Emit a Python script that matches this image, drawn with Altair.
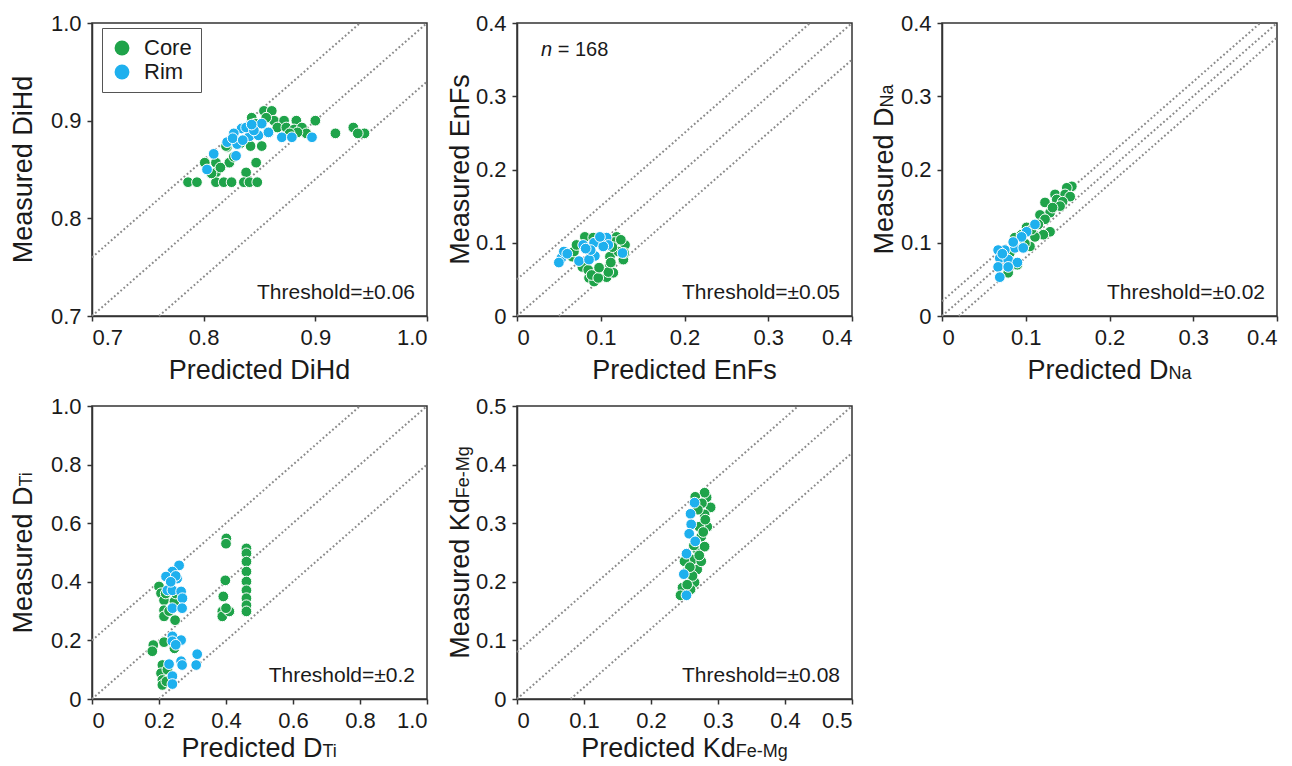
import altair as alt
import pandas as pd

FONT = "Liberation Sans"
GREEN = "#1fa34a"
BLUE = "#1eb0ee"
LINE_GRAY = "#8a8a8a"
INK = "#1a1a1a"
GROUPS = ["Core", "Rim"]

# ---------------- data ----------------
# Panel 1: DiHd
DIHD_CORE_X = [0.854, 0.861, 0.863, 0.872, 0.883, 0.900, 0.918, 0.934, 0.944, 0.938, 0.843, 0.866,
               0.874, 0.881, 0.888, 0.892, 0.884, 0.842, 0.852, 0.847, 0.823, 0.811, 0.801, 0.811,
               0.838, 0.827, 0.786, 0.794, 0.811, 0.818, 0.825, 0.836, 0.841, 0.848, 0.807, 0.821,
               0.856, 0.846, 0.858, 0.877, 0.833, 0.815, 0.820]
DIHD_CORE_Y = [0.910, 0.910, 0.900, 0.900, 0.900, 0.900, 0.887, 0.893, 0.887, 0.887, 0.903, 0.893,
               0.893, 0.891, 0.893, 0.887, 0.888, 0.874, 0.874, 0.857, 0.857, 0.857, 0.857, 0.847,
               0.847, 0.863, 0.837, 0.837, 0.837, 0.837, 0.837, 0.837, 0.837, 0.837, 0.846, 0.873,
               0.903, 0.897, 0.888, 0.887, 0.877, 0.852, 0.874]
DIHD_RIM_X = [0.834, 0.852, 0.827, 0.821, 0.830, 0.841, 0.849, 0.858, 0.870, 0.879, 0.897, 0.809,
              0.829, 0.803, 0.838, 0.845, 0.826, 0.835, 0.843]
DIHD_RIM_Y = [0.892, 0.897, 0.887, 0.878, 0.876, 0.884, 0.885, 0.888, 0.883, 0.883, 0.883, 0.866,
              0.864, 0.850, 0.893, 0.890, 0.882, 0.880, 0.896]

# Panel 2: EnFs
ENFS_CORE_X = [0.081, 0.119, 0.129, 0.066, 0.068, 0.111, 0.111, 0.086, 0.092, 0.107, 0.115, 0.078,
               0.127, 0.085, 0.089, 0.097, 0.109, 0.071, 0.091, 0.116, 0.121, 0.128, 0.112, 0.114,
               0.098, 0.124, 0.101]
ENFS_CORE_Y = [0.108, 0.108, 0.097, 0.081, 0.088, 0.081, 0.070, 0.052, 0.047, 0.053, 0.059, 0.067,
               0.077, 0.063, 0.056, 0.052, 0.060, 0.097, 0.107, 0.101, 0.088, 0.086, 0.073, 0.094,
               0.066, 0.104, 0.102]
ENFS_RIM_X = [0.053, 0.056, 0.050, 0.079, 0.092, 0.107, 0.109, 0.093, 0.074, 0.086, 0.126, 0.103,
              0.099, 0.088, 0.082, 0.060]
ENFS_RIM_Y = [0.079, 0.088, 0.073, 0.097, 0.100, 0.107, 0.097, 0.082, 0.075, 0.077, 0.086, 0.095,
              0.108, 0.090, 0.092, 0.085]

# Panel 3: D_Na
DNA_CORE_X = [0.155, 0.149, 0.135, 0.147, 0.153, 0.137, 0.123, 0.144, 0.129, 0.117, 0.123, 0.115,
              0.129, 0.121, 0.101, 0.111, 0.087, 0.095, 0.105, 0.081, 0.090, 0.079, 0.141, 0.132,
              0.107, 0.099]
DNA_CORE_Y = [0.177, 0.175, 0.166, 0.166, 0.163, 0.159, 0.155, 0.156, 0.141, 0.138, 0.132, 0.125,
              0.115, 0.111, 0.121, 0.108, 0.107, 0.111, 0.095, 0.086, 0.070, 0.059, 0.150, 0.148,
              0.118, 0.099]
DNA_RIM_X = [0.111, 0.101, 0.095, 0.087, 0.075, 0.067, 0.069, 0.079, 0.090, 0.067, 0.069, 0.079,
             0.097, 0.085, 0.072]
DNA_RIM_Y = [0.125, 0.115, 0.108, 0.093, 0.090, 0.090, 0.079, 0.077, 0.073, 0.067, 0.053, 0.067,
             0.093, 0.101, 0.085]

# Panel 4: D_Ti
DTI_CORE_X = [0.401, 0.400, 0.461, 0.461, 0.461, 0.461, 0.461, 0.461, 0.461, 0.461, 0.461, 0.398,
              0.392, 0.389, 0.389, 0.410, 0.400, 0.200, 0.206, 0.215, 0.215, 0.215, 0.248, 0.246,
              0.183, 0.180, 0.215, 0.210, 0.206, 0.210, 0.210, 0.222, 0.246, 0.230, 0.220, 0.225,
              0.250]
DTI_CORE_Y = [0.548, 0.530, 0.514, 0.497, 0.469, 0.435, 0.401, 0.371, 0.344, 0.320, 0.299, 0.405,
              0.350, 0.299, 0.282, 0.299, 0.310, 0.384, 0.361, 0.337, 0.303, 0.282, 0.269, 0.333,
              0.184, 0.163, 0.194, 0.116, 0.088, 0.065, 0.048, 0.060, 0.173, 0.300, 0.360, 0.100,
              0.360]
DTI_RIM_X = [0.260, 0.240, 0.221, 0.254, 0.225, 0.240, 0.266, 0.270, 0.240, 0.269, 0.240, 0.266,
             0.240, 0.250, 0.230, 0.266, 0.269, 0.311, 0.314, 0.240, 0.240, 0.250, 0.235]
DTI_RIM_Y = [0.456, 0.435, 0.418, 0.411, 0.371, 0.371, 0.367, 0.344, 0.310, 0.310, 0.214, 0.201,
             0.197, 0.185, 0.119, 0.129, 0.116, 0.116, 0.153, 0.078, 0.051, 0.420, 0.400]

# Panel 5: Kd_Fe-Mg
KD_CORE_X = [0.283, 0.280, 0.266, 0.289, 0.280, 0.284, 0.275, 0.269, 0.280, 0.262, 0.250, 0.269,
             0.254, 0.265, 0.247, 0.259, 0.244, 0.275, 0.272, 0.281, 0.276, 0.270, 0.278, 0.272,
             0.262, 0.258, 0.264, 0.254]
KD_CORE_Y = [0.344, 0.352, 0.345, 0.327, 0.315, 0.294, 0.277, 0.255, 0.260, 0.238, 0.235, 0.221,
             0.218, 0.199, 0.190, 0.187, 0.177, 0.235, 0.294, 0.306, 0.334, 0.323, 0.285, 0.245,
             0.210, 0.225, 0.262, 0.195]
KD_RIM_X = [0.265, 0.259, 0.260, 0.257, 0.266, 0.253, 0.249, 0.253]
KD_RIM_Y = [0.335, 0.316, 0.298, 0.282, 0.269, 0.248, 0.213, 0.177]

# ---------------- layout / style ----------------
W, H = 335, 293
TITLE_SIZE = 27
SUB_SIZE = 18
TICK_SIZE = 22
THR_SIZE = 21
NOTE_SIZE = 20

ARIAL = {' ': .278, '-': .333, '=': .584, '.': .278, 'D': .722, 'E': .667, 'F': .611, 'H': .722,
         'K': .667, 'M': .833, 'N': .722, 'P': .667, 'T': .611, 'a': .556, 'c': .5, 'd': .556,
         'e': .556, 'g': .556, 'i': .222, 'n': .556, 'r': .333, 's': .5, 't': .278, 'u': .556}


def tw(s, size):
    return sum(ARIAL.get(c, 0.556) for c in s) * size


ONE = alt.Data(values=[{"a": 1}])


def txt(s, x, y, size, align="left", angle=0, style="normal"):
    return alt.Chart(ONE).mark_text(
        text=s, font=FONT, fontSize=size, align=align, baseline="alphabetic",
        angle=angle, fontStyle=style, color=INK
    ).encode(x=alt.value(x), y=alt.value(y))


LABEL_EXPR = "datum.value == 0 ? '0' : format(datum.value, '.1f')"


def panel(cx, cy, rx, ry, lo, hi, ticks, thr, thr_label, xt, xs_, yt, ys_, ytx, xty,
          legend=False, note=False):
    pts = pd.DataFrame({
        "pred": cx + rx,
        "meas": cy + ry,
        "grp": ["Core"] * len(cx) + ["Rim"] * len(rx),
    })
    rows = []
    for k, t in enumerate([-thr, 0.0, thr]):
        x0, x1 = max(lo, lo - t), min(hi, hi - t)
        rows += [{"k": k, "pred": x0, "meas": x0 + t}, {"k": k, "pred": x1, "meas": x1 + t}]
    lines_df = pd.DataFrame(rows)

    sc = alt.Scale(domain=[lo, hi], nice=False, zero=False)
    xax = alt.Axis(values=ticks, labelExpr=LABEL_EXPR, title=None, grid=False)
    yax = alt.Axis(values=ticks, labelExpr=LABEL_EXPR, title=None, grid=False)

    lines = alt.Chart(lines_df).mark_line(
        color=LINE_GRAY, strokeWidth=2, strokeDash=[1.8, 2.4]
    ).encode(
        x=alt.X("pred:Q", scale=sc, axis=xax),
        y=alt.Y("meas:Q", scale=sc, axis=yax),
        detail="k:N",
    )

    if legend:
        leg = alt.Legend(orient="none", legendX=10, legendY=5, title=None,
                         strokeColor="#555555", fillColor="white", padding=9,
                         labelFont=FONT, labelFontSize=22, labelColor=INK,
                         symbolType="circle", symbolSize=220, symbolStrokeWidth=0,
                         symbolOpacity=1, rowPadding=2, labelOffset=11)
    else:
        leg = None
    color = alt.Color("grp:N", scale=alt.Scale(domain=GROUPS, range=[GREEN, BLUE]), legend=leg)

    points = alt.Chart(pts).mark_circle(
        size=115, opacity=1, stroke="white", strokeWidth=1
    ).encode(
        x=alt.X("pred:Q", scale=sc, axis=xax),
        y=alt.Y("meas:Q", scale=sc, axis=yax),
        color=color,
    )

    layers = [lines, points, txt(thr_label, W - 12, H - 17, THR_SIZE, align="right")]

    # x title
    ty = H + xty
    if xs_:
        wm, ws = tw(xt, TITLE_SIZE), tw(xs_, SUB_SIZE)
        xa = W / 2 + (wm - ws) / 2
        layers += [txt(xt, xa, ty, TITLE_SIZE, align="right"), txt(xs_, xa, ty, SUB_SIZE)]
    else:
        layers.append(txt(xt, W / 2, ty, TITLE_SIZE, align="center"))
    # y title
    if ys_:
        wm, ws = tw(yt, TITLE_SIZE), tw(ys_, SUB_SIZE)
        ya = H / 2 - (wm - ws) / 2
        layers += [txt(yt, ytx, ya, TITLE_SIZE, align="right", angle=270),
                   txt(ys_, ytx, ya, SUB_SIZE, align="left", angle=270)]
    else:
        layers.append(txt(yt, ytx, H / 2, TITLE_SIZE, align="center", angle=270))

    if note:
        layers += [txt("n", 24, 33, NOTE_SIZE, style="italic"),
                   txt("= 168", 24 + tw("n ", NOTE_SIZE), 33, NOTE_SIZE)]

    return alt.layer(*layers).properties(width=W, height=H)


p1 = panel(DIHD_CORE_X, DIHD_CORE_Y, DIHD_RIM_X, DIHD_RIM_Y, 0.7, 1.0, [0.7, 0.8, 0.9, 1.0],
           0.06, "Threshold=±0.06", "Predicted DiHd", "", "Measured DiHd", "", -60, 63, legend=True)
p2 = panel(ENFS_CORE_X, ENFS_CORE_Y, ENFS_RIM_X, ENFS_RIM_Y, 0.0, 0.4, [0, 0.1, 0.2, 0.3, 0.4],
           0.05, "Threshold=±0.05", "Predicted EnFs", "", "Measured EnFs", "", -48, 63, note=True)
p3 = panel(DNA_CORE_X, DNA_CORE_Y, DNA_RIM_X, DNA_RIM_Y, 0.0, 0.4, [0, 0.1, 0.2, 0.3, 0.4],
           0.02, "Threshold=±0.02", "Predicted D", "Na", "Measured D", "Na", -49, 63)
p4 = panel(DTI_CORE_X, DTI_CORE_Y, DTI_RIM_X, DTI_RIM_Y, 0.0, 1.0, [0, 0.2, 0.4, 0.6, 0.8, 1.0],
           0.2, "Threshold=±0.2", "Predicted D", "Ti", "Measured D", "Ti", -60, 58)
p5 = panel(KD_CORE_X, KD_CORE_Y, KD_RIM_X, KD_RIM_Y, 0.0, 0.5, [0, 0.1, 0.2, 0.3, 0.4, 0.5],
           0.08, "Threshold=±0.08", "Predicted Kd", "Fe-Mg", "Measured Kd", "Fe-Mg", -48, 58)

chart = alt.concat(
    p1, p2, p3, p4, p5, columns=3, spacing=90, bounds="flush"
).resolve_legend(
    color="independent"
).properties(
    padding={"left": 9, "top": 11, "right": 1, "bottom": 0}, background="white"
).configure_view(
    stroke="#333333", strokeWidth=1.5
).configure_axis(
    domainColor="#333333", domainWidth=1.5, tickColor="#333333", tickWidth=1.5, tickSize=5,
    labelFont=FONT, labelFontSize=TICK_SIZE, labelColor=INK, labelPadding=6
)

chart.save("out.html", embed_options={"renderer": "svg", "actions": False})
